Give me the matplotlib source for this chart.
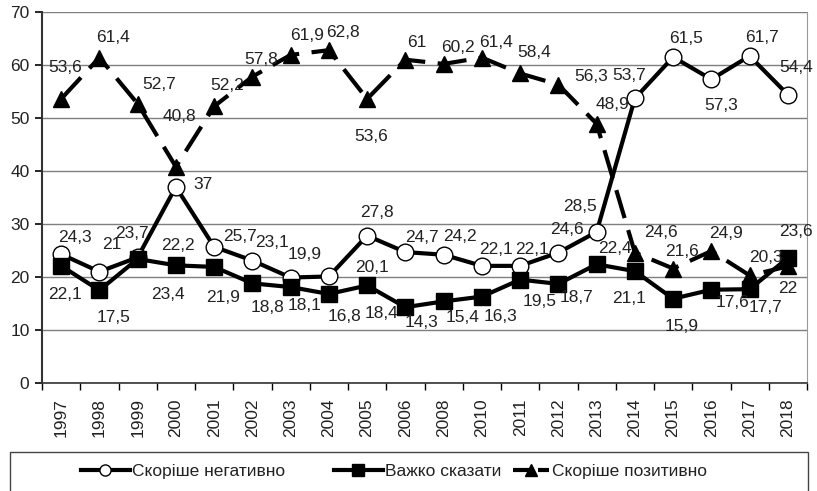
import matplotlib.pyplot as plt
from matplotlib.patches import Rectangle
from matplotlib.lines import Line2D

plt.rcParams['font.family'] = ['Liberation Sans', 'DejaVu Sans']

years = ["1997", "1998", "1999", "2000", "2001", "2002", "2003", "2004",
         "2005", "2006", "2008", "2010", "2011", "2012", "2013", "2014",
         "2015", "2016", "2017", "2018"]

negative = [24.3, 21, 23.7, 37, 25.7, 23.1, 19.9, 20.1, 27.8, 24.7,
            24.2, 22.1, 22.1, 24.6, 28.5, 53.7, 61.5, 57.3, 61.7, 54.4]
hard_to_say = [22.1, 17.5, 23.4, 22.2, 21.9, 18.8, 18.1, 16.8, 18.4, 14.3,
               15.4, 16.3, 19.5, 18.7, 22.4, 21.1, 15.9, 17.6, 17.7, 23.6]
positive = [53.6, 61.4, 52.7, 40.8, 52.2, 57.8, 61.9, 62.8, 53.6, 61,
            60.2, 61.4, 58.4, 56.3, 48.9, 24.6, 21.6, 24.9, 20.3, 22]

series_names = ["Скоріше негативно", "Важко сказати", "Скоріше позитивно"]

# label offsets in pixels (dx, dy), dy positive = up
neg_offsets = [(14, 17), (12, 27), (-6, 24), (27, 2), (26, 10), (20, 18),
               (14, 23), (43, 9), (10, 23), (17, 15), (16, 18), (14, 16),
               (12, 16), (9, 23), (-17, 25), (-6, 23), (13, 19), (10, -26),
               (12, 18), (8, 27)]
hard_offsets = [(4, -29), (14, -27), (30, -36), (2, 20), (9, -31), (15, -24),
                (14, -18), (16, -23), (14, -28), (16, -15), (19, -16),
                (19, -20), (19, -22), (18, -14), (18, 16), (-6, -27),
                (9, -28), (21, -13), (16, -18), (8, 26)]
pos_offsets = [(4, 31), (14, 20), (22, 19), (4, 50), (13, 21), (9, 17),
               (16, 19), (14, 18), (4, -38), (11, 17), (14, 16), (14, 15),
               (14, 21), (33, 8), (16, 19), (26, 20), (9, 17), (15, 18),
               (16, 18), (0, -22)]


def fmt(v):
    s = ("%.1f" % v).rstrip("0").rstrip(".")
    return s.replace(".", ",")


fig = plt.figure(figsize=(8.17, 4.91), dpi=100)
ax = fig.add_axes([42 / 817, 1 - 383 / 491, 765 / 817, 371 / 491])

x = list(range(len(years)))

ax.plot(x, negative, color="black", lw=3, marker="o", markersize=12,
        markerfacecolor="white", markeredgecolor="black",
        markeredgewidth=1, zorder=3)
ax.plot(x, hard_to_say, color="black", lw=3, marker="s", markersize=11,
        zorder=3)
ax.plot(x, positive, color="black", lw=3, marker="^", markersize=11,
        dashes=(7, 3), zorder=3)

for vals, offs in [(negative, neg_offsets), (hard_to_say, hard_offsets),
                   (positive, pos_offsets)]:
    for i, v in enumerate(vals):
        dx, dy = offs[i]
        ax.annotate(fmt(v), (i, v), xytext=(dx * 0.72, dy * 0.72),
                    textcoords="offset points", ha="center", va="center",
                    fontsize=12.5, color="#222222", zorder=4)

ax.set_xlim(-0.5, len(years) - 0.5)
ax.set_ylim(0, 70)
ax.set_yticks(range(0, 71, 10))
ax.tick_params(axis="y", labelsize=12.5, length=5, width=1.2,
               direction="out", pad=4, labelcolor="#222222")
ax.yaxis.grid(True, color="#7f7f7f", lw=1)
ax.set_axisbelow(True)

ax.set_xticks(x)
ax.set_xticklabels(years, rotation=90, fontsize=12.5, color="#222222")
ax.tick_params(axis="x", length=0, pad=11)
ax.set_xticks([i - 0.5 for i in range(len(years) + 1)], minor=True)
ax.tick_params(axis="x", which="minor", length=5, width=1, direction="out")

ax.spines["top"].set_visible(False)
ax.spines["right"].set_color("#999999")
ax.spines["left"].set_color("#333333")
ax.spines["left"].set_linewidth(1.5)
ax.spines["bottom"].set_color("#333333")
ax.spines["bottom"].set_linewidth(1.2)

fig.patches.append(Rectangle((10 / 817, -0.05), 798 / 817, 0.05 + 39 / 491,
                             transform=fig.transFigure, fill=False,
                             edgecolor="#444444", lw=1))

handles = [
    Line2D([], [], color="black", lw=3, marker="o", markersize=8,
           markerfacecolor="white", markeredgewidth=1),
    Line2D([], [], color="black", lw=3, marker="s", markersize=9),
    Line2D([], [], color="black", lw=3, marker="^", markersize=8,
           dashes=(4, 2)),
]
legend_x = [81, 334, 513]
legend_len = [2.8, 2.8, 2.1]
for h, name, lx, hl in zip(handles, series_names, legend_x, legend_len):
    leg = fig.legend([h], [name], loc="center left",
                     bbox_to_anchor=(lx / 817, 1 - 471 / 491),
                     frameon=False, fontsize=12.5, handlelength=hl,
                     handletextpad=0.15, borderpad=0, borderaxespad=0)
    for t in leg.get_texts():
        t.set_color("#222222")

fig.savefig("out.png", dpi=100)
